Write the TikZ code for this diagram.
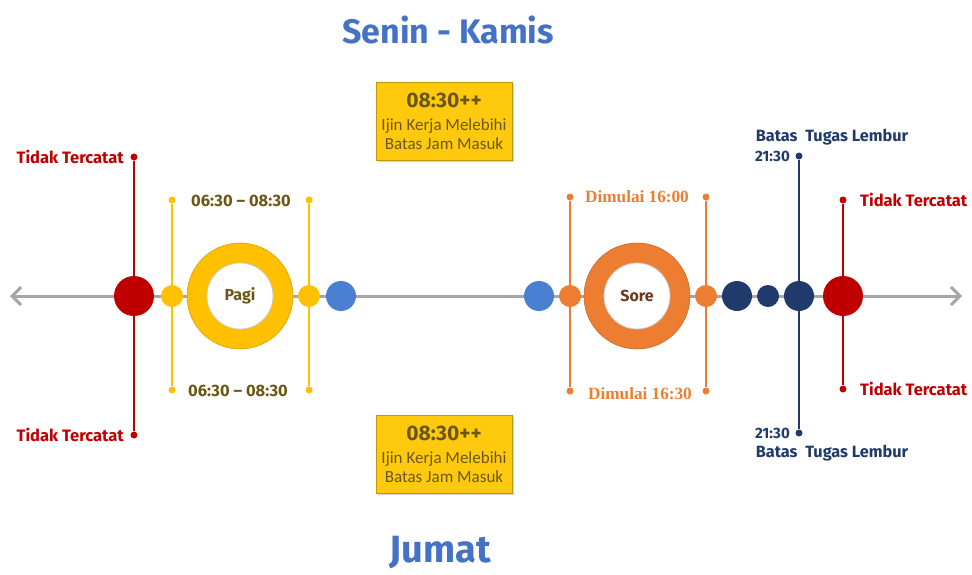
\documentclass[tikz,border=0pt]{standalone}
\usepackage{fontspec}
\setmainfont{Fira Sans}
\newfontfamily\boxfont{Carlito}
\newfontfamily\headfont{Fira Sans}
\newfontfamily\serfont{Liberation Serif}
\usetikzlibrary{arrows.meta,shadows}
\definecolor{cred}{HTML}{C00000}
\definecolor{cyel}{HTML}{FFC000}
\definecolor{colive}{HTML}{6B5712}
\definecolor{corange}{HTML}{ED7D31}
\definecolor{cblue}{HTML}{4A7FD2}
\definecolor{cnavy}{HTML}{1F3A6B}
\definecolor{cgray}{HTML}{A6A6A6}
\definecolor{cbox}{HTML}{FFC90E}
\definecolor{ctitle}{HTML}{4472C4}
\definecolor{cbrown}{HTML}{6B3A1E}
\tikzset{
  ball/.style={circle,inner sep=0pt,minimum size=#1,draw=none},
  redball/.style={ball=40pt,fill=cred},
  yelball/.style={ball=22pt,fill=cyel},
  orball/.style={ball=22pt,fill=corange},
  blueball/.style={ball=30pt,fill=cblue},
  navyball/.style={ball=30pt,fill=cnavy},
  navysmall/.style={ball=22pt,fill=cnavy},
  ring/.style={circle,inner sep=0pt,minimum size=106pt,fill=#1,draw=#1!85!black,line width=0.6pt},
  core/.style={circle,inner sep=0pt,minimum size=66pt,fill=white,draw=black!20,line width=0.8pt,
     font=\fontsize{16}{18}\selectfont\bfseries},
  dot/.style={circle,inner sep=0pt,minimum size=7pt,fill=#1},
  vline/.style={line width=1.6pt},
  redtxt/.style={text=cred,font=\fontsize{16.5}{18}\selectfont\bfseries,inner sep=0pt},
  navytxt/.style={text=cnavy,font=\fontsize{16.3}{18}\selectfont\bfseries,inner sep=0pt},
  hourtxt/.style={text=cnavy,font=\fontsize{15}{17}\selectfont\bfseries,inner sep=0pt},
  timetxt/.style={text=colive,font=\fontsize{16.5}{18}\selectfont\bfseries,inner sep=0pt},
  dimtxt/.style={text=corange,font=\serfont\fontsize{17.2}{19}\selectfont\bfseries,inner sep=0pt},
  infobox/.style={rectangle,fill=cbox,draw=cbox!75!black,line width=0.8pt,minimum width=136pt,
     minimum height=78pt,inner sep=2pt,align=center,text=colive,
     drop shadow={shadow xshift=2pt,shadow yshift=-2pt,opacity=0.35},
     font=\boxfont\fontsize{17}{18.5}\selectfont},
  title/.style={text=ctitle,font=\fontsize{34}{38}\selectfont\bfseries,inner sep=0pt}
}
\begin{document}
\begin{tikzpicture}[x=1pt,y=-1pt]
\useasboundingbox (0,0) rectangle (972,574);
% axis
\coordinate (axL) at (10,296);
\coordinate (axR) at (962,296);
\draw[cgray,line width=3pt,{Straight Barb[length=9pt,width=18pt,line width=3pt]}-{Straight Barb[length=9pt,width=18pt,line width=3pt]}] (axL) -- (axR);
% titles
\node[title] (t1) at (448,30) {Senin - Kamis};
\node[title,font=\fontsize{38}{40}\selectfont\bfseries] (t2) at (440,553) {Jumat};
% info boxes
\node[infobox] (b1) at (444,121) {{\headfont\fontsize{21}{22}\selectfont\bfseries 08:30++}\\[5pt]Ijin Kerja Melebihi\\Batas Jam Masuk};
\node[infobox] (b2) at (444,454) {{\headfont\fontsize{21}{22}\selectfont\bfseries 08:30++}\\[5pt]Ijin Kerja Melebihi\\Batas Jam Masuk};
% vertical lines endpoints
\node[dot=cred] (rA1) at (134,157) {};
\node[dot=cred] (rA2) at (134,435) {};
\node[dot=cyel] (yA1) at (172,200) {};
\node[dot=cyel] (yA2) at (172,390) {};
\node[dot=cyel] (yB1) at (309,200) {};
\node[dot=cyel] (yB2) at (309,390) {};
\node[dot=corange] (oA1) at (570,197) {};
\node[dot=corange] (oA2) at (570,391) {};
\node[dot=corange] (oB1) at (706,197) {};
\node[dot=corange] (oB2) at (706,391) {};
\node[dot=cnavy] (nA1) at (799,156) {};
\node[dot=cnavy] (nA2) at (799,433) {};
\node[dot=cred] (rB1) at (843,200) {};
\node[dot=cred] (rB2) at (843,389) {};
\draw[vline,cred] (rA1) -- (rA2);
\draw[vline,cyel] (yA1) -- (yA2);
\draw[vline,cyel] (yB1) -- (yB2);
\draw[vline,corange] (oA1) -- (oA2);
\draw[vline,corange] (oB1) -- (oB2);
\draw[vline,cnavy] (nA1) -- (nA2);
\draw[vline,cred] (rB1) -- (rB2);
% balls
\node[redball] (r1) at (134,296) {};
\node[yelball] (y1) at (172,296) {};
\node[ring=cyel] (pagiR) at (240,296) {};
\node[core,text=colive] (pagi) at (240,296) {Pagi};
\node[yelball] (y2) at (309,296) {};
\node[blueball] (bl1) at (341,296) {};
\node[blueball] (bl2) at (539,296) {};
\node[orball] (o1) at (570,296) {};
\node[ring=corange] (soreR) at (637,296) {};
\node[core,text=cbrown] (sore) at (637,296) {Sore};
\node[orball] (o2) at (706,296) {};
\node[navyball] (n1) at (737,296) {};
\node[navysmall] (n2) at (768,296) {};
\node[navyball] (n3) at (799,296) {};
\node[redball] (r2) at (843,296) {};
% labels
\node[redtxt,anchor=east] (lt1) at ([xshift=-10pt]rA1.center) {Tidak Tercatat};
\node[redtxt,anchor=east] (lt2) at ([xshift=-10pt]rA2.center) {Tidak Tercatat};
\node[redtxt,anchor=west] (lt3) at ([xshift=17pt]rB1.center) {Tidak Tercatat};
\node[redtxt,anchor=west] (lt4) at ([xshift=17pt]rB2.center) {Tidak Tercatat};
\node[timetxt] (tm1) at (241,201) {06:30 -- 08:30};
\node[timetxt] (tm2) at (238,391) {06:30 -- 08:30};
\node[dimtxt] (dm1) at (637,197) {Dimulai 16:00};
\node[dimtxt] (dm2) at (640,394) {Dimulai 16:30};
\node[hourtxt,anchor=east] (h1) at ([xshift=-9pt]nA1.center) {21:30};
\node[hourtxt,anchor=east] (h2) at ([xshift=-9pt]nA2.center) {21:30};
\node[navytxt] (bt1) at (832,137) {Batas\ \ Tugas Lembur};
\node[navytxt] (bt2) at (832,453) {Batas\ \ Tugas Lembur};
\end{tikzpicture}
\end{document}
